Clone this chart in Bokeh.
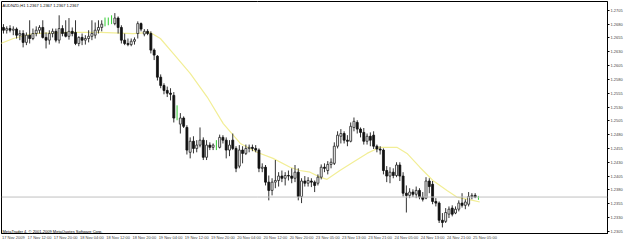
import numpy as np
from bokeh.plotting import figure
from bokeh.models import FixedTicker, PrintfTickFormatter, Label, Span
from bokeh.embed import file_html
from bokeh.resources import INLINE

header_text = "AUDNZD,H1  1.2367 1.2367 1.2367 1.2367"
footer_text = "MetaTrader 4, \u00a9 2001-2009 MetaQuotes Software Corp."

opens = [1.2674, 1.2669, 1.2672, 1.2669, 1.2671, 1.2660, 1.2663, 1.2647, 1.2660, 1.2654,
         1.2663, 1.2669, 1.2674, 1.2656, 1.2651, 1.2663, 1.2667, 1.2651, 1.2672, 1.2665,
         1.2658, 1.2667, 1.2665, 1.2645, 1.2656, 1.2651, 1.2654, 1.2658, 1.2660, 1.2669,
         1.2674, 1.2680, 1.2683, 1.2685, 1.2681, 1.2691, 1.2674, 1.2651, 1.2645, 1.2643,
         1.2649, 1.2663, 1.2681, 1.2662, 1.2667, 1.2663, 1.2633, 1.2622, 1.2584, 1.2569,
         1.2560, 1.2555, 1.2551, 1.2520, 1.2499, 1.2510, 1.2493, 1.2448, 1.2468, 1.2455,
         1.2461, 1.2470, 1.2439, 1.2461, 1.2457, 1.2461, 1.2457, 1.2475, 1.2470, 1.2452,
         1.2470, 1.2455, 1.2423, 1.2452, 1.2446, 1.2455, 1.2457, 1.2455, 1.2452, 1.2419,
         1.2421, 1.2394, 1.2379, 1.2394, 1.2397, 1.2405, 1.2401, 1.2406, 1.2405, 1.2401,
         1.2412, 1.2368, 1.2396, 1.2392, 1.2396, 1.2394, 1.2392, 1.2403, 1.2421, 1.2415,
         1.2426, 1.2428, 1.2459, 1.2477, 1.2482, 1.2470, 1.2468, 1.2493, 1.2502, 1.2490,
         1.2484, 1.2468, 1.2477, 1.2479, 1.2459, 1.2454, 1.2452, 1.2415, 1.2405, 1.2412,
         1.2406, 1.2425, 1.2405, 1.2374, 1.2370, 1.2376, 1.2372, 1.2379, 1.2367, 1.2365,
         1.2396, 1.2390, 1.2359, 1.2356, 1.2325, 1.2323, 1.2336, 1.2347, 1.2338, 1.2345,
         1.2356, 1.2352, 1.2354, 1.2368, 1.2370, 1.2367]
highs = [1.2680, 1.2676, 1.2678, 1.2676, 1.2674, 1.2669, 1.2669, 1.2665, 1.2687, 1.2672,
         1.2676, 1.2678, 1.2687, 1.2665, 1.2669, 1.2672, 1.2672, 1.2696, 1.2678, 1.2687,
         1.2691, 1.2674, 1.2687, 1.2658, 1.2663, 1.2660, 1.2669, 1.2687, 1.2683, 1.2687,
         1.2687, 1.2692, 1.2692, 1.2696, 1.2700, 1.2694, 1.2678, 1.2663, 1.2654, 1.2654,
         1.2656, 1.2685, 1.2683, 1.2671, 1.2671, 1.2667, 1.2636, 1.2624, 1.2589, 1.2573,
         1.2567, 1.2564, 1.2557, 1.2533, 1.2519, 1.2513, 1.2497, 1.2475, 1.2477, 1.2470,
         1.2493, 1.2475, 1.2470, 1.2466, 1.2464, 1.2470, 1.2480, 1.2479, 1.2475, 1.2470,
         1.2482, 1.2459, 1.2461, 1.2459, 1.2462, 1.2462, 1.2462, 1.2461, 1.2455, 1.2428,
         1.2425, 1.2406, 1.2401, 1.2434, 1.2412, 1.2415, 1.2412, 1.2415, 1.2419, 1.2425,
         1.2419, 1.2401, 1.2405, 1.2403, 1.2401, 1.2397, 1.2408, 1.2426, 1.2428, 1.2432,
         1.2437, 1.2466, 1.2486, 1.2490, 1.2486, 1.2479, 1.2502, 1.2511, 1.2506, 1.2493,
         1.2492, 1.2482, 1.2484, 1.2486, 1.2462, 1.2459, 1.2455, 1.2423, 1.2421, 1.2419,
         1.2430, 1.2430, 1.2412, 1.2388, 1.2383, 1.2381, 1.2386, 1.2383, 1.2376, 1.2403,
         1.2401, 1.2396, 1.2365, 1.2359, 1.2338, 1.2347, 1.2350, 1.2352, 1.2350, 1.2361,
         1.2374, 1.2363, 1.2376, 1.2374, 1.2374, 1.2369]
lows = [1.2663, 1.2663, 1.2665, 1.2660, 1.2654, 1.2651, 1.2638, 1.2642, 1.2645, 1.2651,
        1.2658, 1.2663, 1.2654, 1.2636, 1.2643, 1.2656, 1.2647, 1.2645, 1.2658, 1.2656,
        1.2652, 1.2658, 1.2642, 1.2640, 1.2642, 1.2643, 1.2647, 1.2651, 1.2654, 1.2663,
        1.2667, 1.2676, 1.2678, 1.2680, 1.2678, 1.2663, 1.2645, 1.2642, 1.2640, 1.2640,
        1.2643, 1.2654, 1.2667, 1.2658, 1.2660, 1.2627, 1.2615, 1.2578, 1.2564, 1.2553,
        1.2548, 1.2542, 1.2502, 1.2506, 1.2482, 1.2492, 1.2444, 1.2437, 1.2446, 1.2448,
        1.2457, 1.2434, 1.2434, 1.2452, 1.2452, 1.2452, 1.2455, 1.2464, 1.2437, 1.2441,
        1.2452, 1.2412, 1.2419, 1.2428, 1.2443, 1.2448, 1.2450, 1.2448, 1.2412, 1.2412,
        1.2388, 1.2361, 1.2370, 1.2383, 1.2386, 1.2394, 1.2388, 1.2397, 1.2392, 1.2394,
        1.2361, 1.2356, 1.2386, 1.2386, 1.2385, 1.2376, 1.2388, 1.2399, 1.2412, 1.2408,
        1.2419, 1.2425, 1.2455, 1.2464, 1.2464, 1.2459, 1.2466, 1.2486, 1.2482, 1.2475,
        1.2462, 1.2462, 1.2459, 1.2454, 1.2448, 1.2444, 1.2408, 1.2394, 1.2392, 1.2401,
        1.2403, 1.2396, 1.2368, 1.2339, 1.2365, 1.2367, 1.2365, 1.2363, 1.2359, 1.2363,
        1.2374, 1.2354, 1.2350, 1.2320, 1.2312, 1.2320, 1.2329, 1.2332, 1.2336, 1.2341,
        1.2348, 1.2345, 1.2350, 1.2363, 1.2365, 1.2362]
closes = [1.2669, 1.2672, 1.2669, 1.2671, 1.2660, 1.2663, 1.2647, 1.2660, 1.2654, 1.2663,
          1.2669, 1.2674, 1.2656, 1.2651, 1.2663, 1.2667, 1.2651, 1.2672, 1.2663, 1.2658,
          1.2667, 1.2663, 1.2645, 1.2656, 1.2651, 1.2654, 1.2658, 1.2663, 1.2669, 1.2674,
          1.2680, 1.2680, 1.2683, 1.2685, 1.2691, 1.2674, 1.2651, 1.2645, 1.2643, 1.2649,
          1.2652, 1.2681, 1.2671, 1.2667, 1.2663, 1.2633, 1.2624, 1.2584, 1.2569, 1.2560,
          1.2555, 1.2553, 1.2510, 1.2520, 1.2510, 1.2495, 1.2452, 1.2468, 1.2455, 1.2461,
          1.2470, 1.2439, 1.2461, 1.2457, 1.2461, 1.2461, 1.2475, 1.2470, 1.2452, 1.2461,
          1.2455, 1.2419, 1.2452, 1.2446, 1.2455, 1.2457, 1.2455, 1.2452, 1.2419, 1.2421,
          1.2394, 1.2379, 1.2394, 1.2397, 1.2405, 1.2401, 1.2406, 1.2405, 1.2401, 1.2412,
          1.2368, 1.2396, 1.2392, 1.2397, 1.2394, 1.2388, 1.2403, 1.2421, 1.2419, 1.2426,
          1.2430, 1.2459, 1.2479, 1.2482, 1.2470, 1.2468, 1.2495, 1.2504, 1.2490, 1.2484,
          1.2468, 1.2477, 1.2470, 1.2459, 1.2454, 1.2452, 1.2415, 1.2405, 1.2412, 1.2406,
          1.2425, 1.2405, 1.2374, 1.2370, 1.2376, 1.2372, 1.2379, 1.2367, 1.2363, 1.2396,
          1.2386, 1.2359, 1.2356, 1.2325, 1.2321, 1.2339, 1.2345, 1.2336, 1.2345, 1.2356,
          1.2352, 1.2358, 1.2368, 1.2370, 1.2367, 1.2367]

ma_bar = [-0.9, 3.0, 9.1, 19.5, 29.6, 39.6, 44.8, 47.9, 51.8, 57.0, 62.2, 67.1, 72.3,
          77.4, 82.3, 87.5, 90.5, 93.6, 96.6, 98.8, 102.7, 106.7, 111.0, 114.9, 120.1,
          123.2, 127.1, 131.1, 135.4, 138.4, 143.3, 145.4]
ma_val = [1.2645, 1.2654, 1.2663, 1.2665, 1.2665, 1.2663, 1.2665, 1.2654, 1.2627, 1.2591,
          1.2548, 1.2500, 1.2464, 1.2448, 1.2437, 1.2421, 1.2415, 1.2412, 1.2403, 1.2399,
          1.2415, 1.2430, 1.2446, 1.2457, 1.2457, 1.2446, 1.2421, 1.2397, 1.2379, 1.2367,
          1.2361, 1.2358]

y_ticks = [1.2305, 1.2330, 1.2355, 1.2380, 1.2405, 1.2430, 1.2455, 1.2480, 1.2505,
           1.2530, 1.2555, 1.2580, 1.2605, 1.2630, 1.2655, 1.2680, 1.2705]
x_tick_bars = [0, 8, 16, 24, 32, 40, 48, 56, 64, 72, 80, 88, 96, 104, 112, 120, 128, 136, 144]
x_tick_labels = ["17 Nov 2009", "17 Nov 12:00", "17 Nov 20:00", "18 Nov 04:00", "18 Nov 12:00",
                 "18 Nov 20:00", "19 Nov 04:00", "19 Nov 12:00", "19 Nov 20:00", "20 Nov 04:00",
                 "20 Nov 12:00", "20 Nov 20:00", "23 Nov 05:00", "23 Nov 13:00", "23 Nov 21:00",
                 "24 Nov 05:00", "24 Nov 13:00", "24 Nov 21:00", "25 Nov 05:00"]
last_price = 1.2367

FONT = "Liberation Sans"

p = figure(width=625, height=242, output_backend="svg", toolbar_location=None,
           x_range=(-0.6, 184.4), y_range=(1.2301, 1.2721), y_axis_location="right",
           min_border_left=1, min_border_right=14, min_border_top=1, min_border_bottom=6)
p.background_fill_color = "white"
p.border_fill_color = "white"
p.outline_line_color = "black"
p.outline_line_width = 1
p.grid.visible = False

# y axis (right)
p.yaxis.ticker = FixedTicker(ticks=y_ticks)
p.yaxis.formatter = PrintfTickFormatter(format="%.4f")
p.yaxis.major_label_text_font_size = "4px"
p.yaxis.major_label_text_font = FONT
p.yaxis.major_tick_out = 2
p.yaxis.major_tick_in = 0
p.yaxis.minor_tick_out = 0
p.yaxis.minor_tick_in = 0
p.yaxis.major_label_standoff = 1
p.yaxis.axis_line_color = "black"

# x axis (labels left-aligned to their bar: shift tick by 3 bars)
shift = 3
xt = [b + shift for b in x_tick_bars]
p.xaxis.ticker = FixedTicker(ticks=xt)
p.xaxis.major_label_overrides = {t: lab for t, lab in zip(xt, x_tick_labels)}
p.xaxis.major_label_text_font_size = "4px"
p.xaxis.major_label_text_font = FONT
p.xaxis.major_tick_line_color = None
p.xaxis.minor_tick_line_color = None
p.xaxis.major_tick_out = 0
p.xaxis.major_tick_in = 0
p.xaxis.minor_tick_out = 0
p.xaxis.minor_tick_in = 0
p.xaxis.major_label_standoff = 1
p.xaxis.axis_line_color = "black"

# bid line
p.add_layout(Span(location=last_price, dimension="width", line_color="#c0c0c0", line_width=1))

# moving average
p.line(ma_bar, ma_val, line_color="#f2ee96", line_width=1.2)

o = np.array(opens); h = np.array(highs); l = np.array(lows); c = np.array(closes)
idx = np.arange(len(o))
doji = o == c
up = c > o
dn = c < o

p.segment(idx[~doji], h[~doji], idx[~doji], l[~doji], line_color="#333333", line_width=1)
p.segment(idx[doji], h[doji], idx[doji], l[doji], line_color="#33cc33", line_width=1)
p.vbar(x=idx[up], width=0.6, top=c[up], bottom=o[up], fill_color="white",
       line_color="#222222", line_width=0.8)
p.vbar(x=idx[dn], width=0.6, top=o[dn], bottom=c[dn], fill_color="#111111",
       line_color="#111111", line_width=0.8)

p.add_layout(Label(x=-0.3, y=1.2714, text=header_text, text_font=FONT,
                   text_font_size="4px", text_baseline="middle", text_color="black"))
p.add_layout(Label(x=-0.3, y=1.2305, text=footer_text, text_font=FONT,
                   text_font_size="4px", text_baseline="middle", text_color="black"))
p.add_layout(Label(x=184.4, y=last_price, x_offset=1, text="1.2367", text_font=FONT,
                   text_font_size="4px", text_baseline="middle", text_color="white",
                   background_fill_color="black", padding=1))

open("out.html", "w").write(file_html(p, INLINE))
